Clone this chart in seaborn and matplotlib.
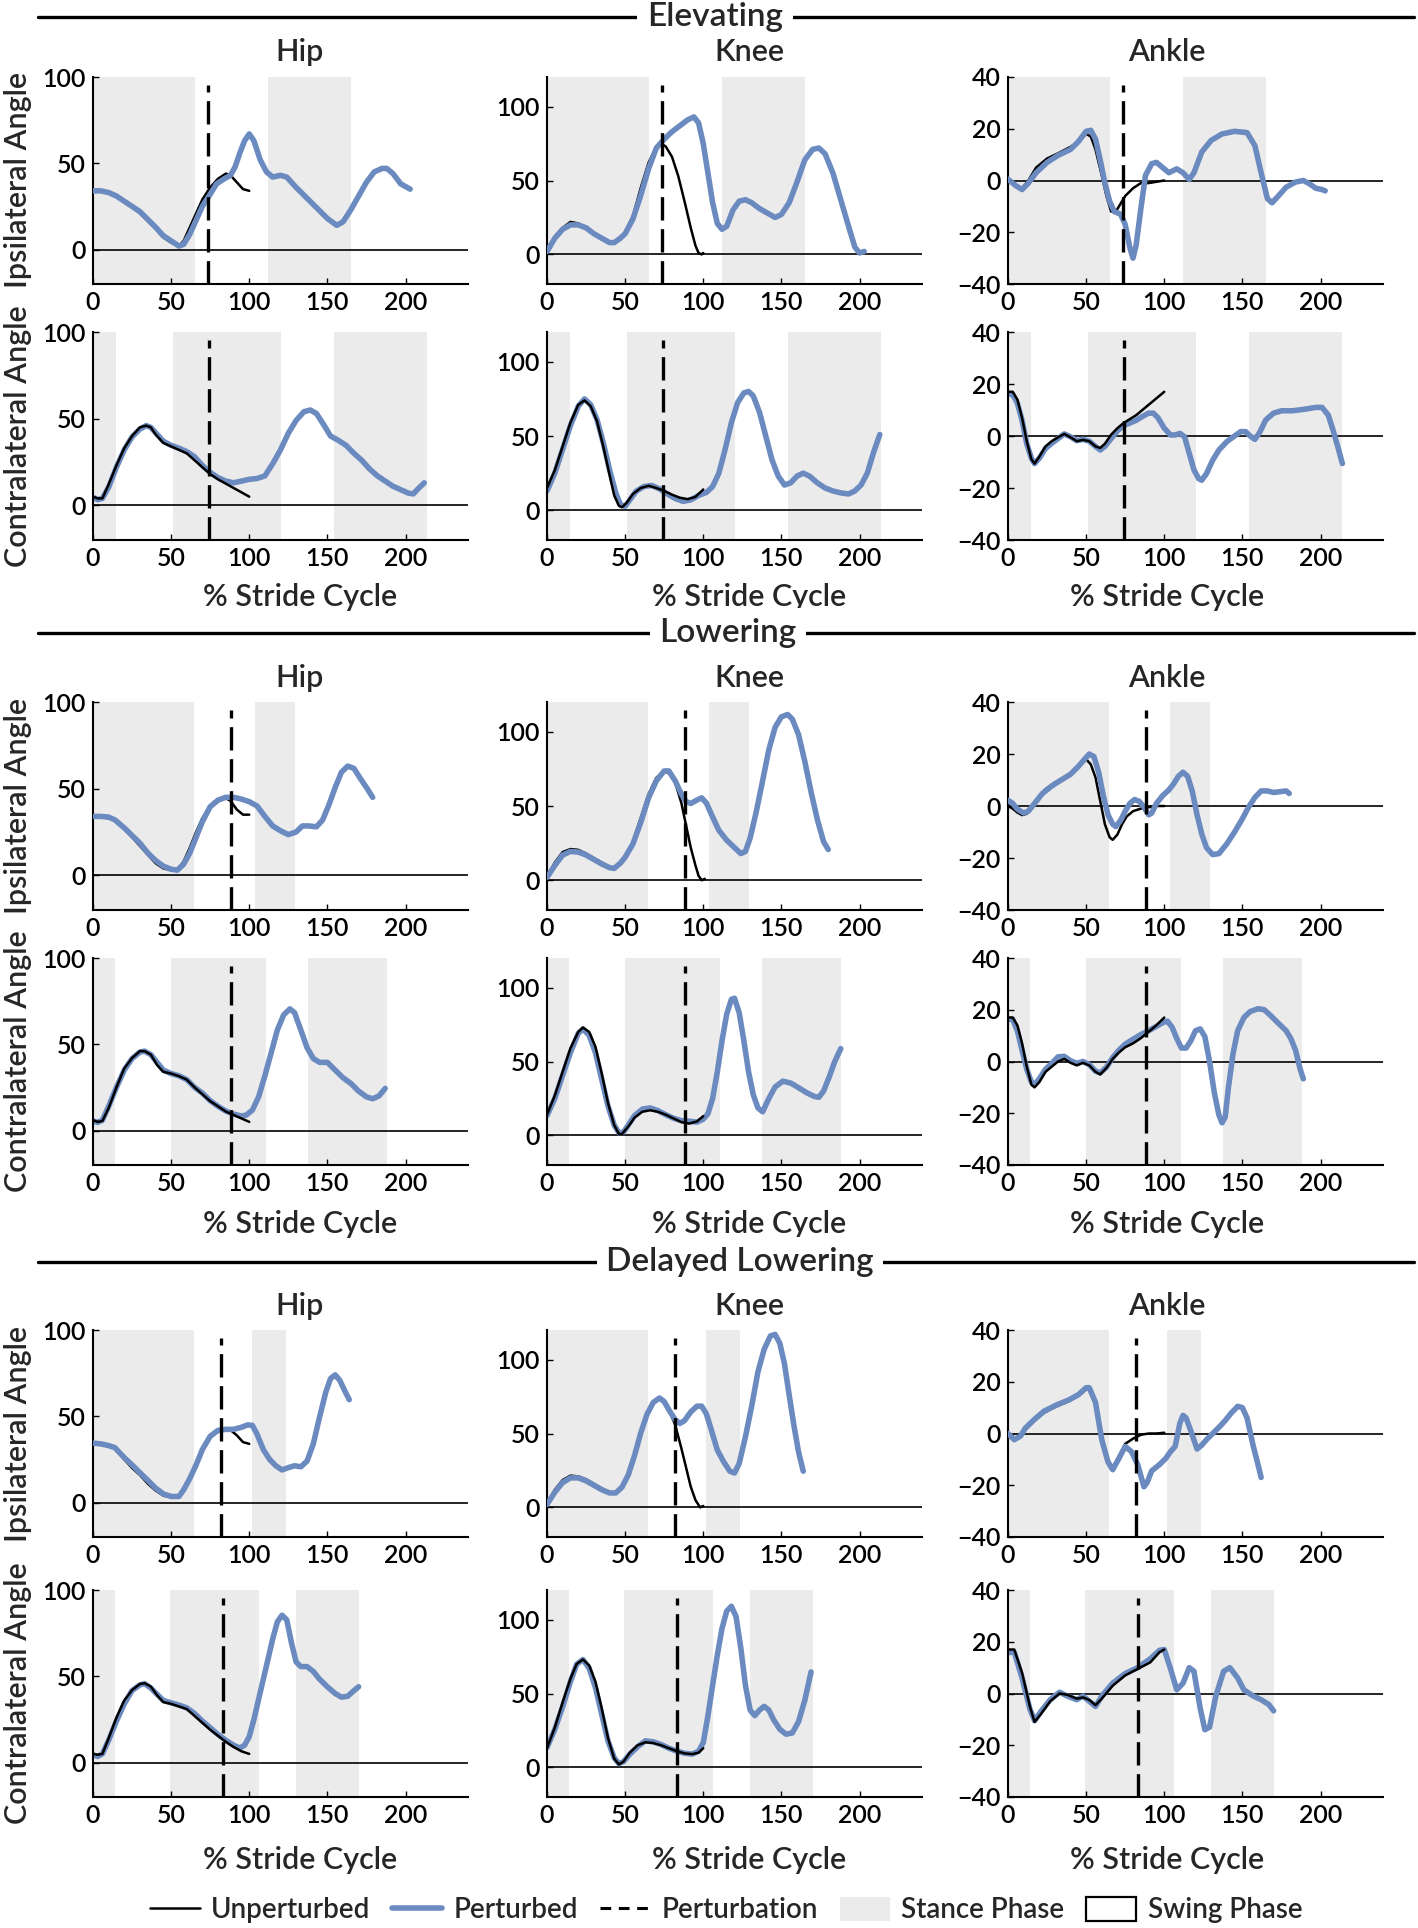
import numpy as np
import pandas as pd
import matplotlib
matplotlib.use("Agg")
import matplotlib.pyplot as plt
import seaborn as sns
from matplotlib.lines import Line2D
from matplotlib.patches import Patch

sns.set_theme(style="ticks")
plt.rcParams['font.family'] = ['Lato', 'DejaVu Sans']
plt.rcParams['font.weight'] = 'semibold'

# ---------------- DATA ----------------
SECTIONS = ["Elevating", "Lowering", "Delayed Lowering"]
JOINTS = ["Hip", "Knee", "Ankle"]
SIDE_LABELS = ["Ipsilateral Angle", "Contralateral Angle"]
X_TICKS = [0, 50, 100, 150, 200]
Y_TICKS = {"Hip": [0, 50, 100], "Knee": [0, 50, 100], "Ankle": [-40, -20, 0, 20, 40]}
Y_LIMS = {"Hip": (-20, 100), "Knee": (-20, 120), "Ankle": (-40, 40)}

# perturbation onset (% stride) per section, ipsilateral / contralateral
E_ONSET = [73.5, 74]
L_ONSET = [88, 88]
D_ONSET = [82, 83]

# stance phase spans per section (ipsilateral, contralateral)
E_STANCE_I = [(0, 65), (112, 165)]
E_STANCE_C = [(0, 14.5), (51, 120), (154, 214)]
L_STANCE_I = [(0, 64.5), (103.5, 129)]
L_STANCE_C = [(0, 14.3), (50, 111), (137.5, 188)]
D_STANCE_I = [(0, 64.5), (102, 123.5)]
D_STANCE_C = [(0, 14.2), (49, 106), (130, 170)]

# ---- Elevating ----
E_HIP_I_P = [(0,34),(5,34),(10,33),(15,31),(20,28),(30,22),(40,13),(45,8),(50,5),(55,2),(58,3),(62,9),(66,17),(70,25),(75,32),(79,38),(84,41),(88,43),(91,48),(94,56),(97,63),(100,67),(103,63),(107,52),(111,45),(115,42),(120,43),(124,42),(130,36),(140,27),(150,18),(156,14),(160,16),(165,23),(170,31),(175,39),(180,45),(185,47),(188,47),(192,44),(197,38),(203,35)]
E_HIP_I_U = [(0,34),(10,33),(20,28),(30,21),(40,12),(45,7),(50,4),(55,2),(58,5),(62,13),(66,21),(70,29),(75,36),(80,41),(85,44),(88,43),(92,39),(96,35),(100,34)]
E_KNEE_I_P = [(0,2),(5,11),(10,17),(15,20),(20,20),(25,18),(30,14),(35,11),(40,8),(43,8),(47,11),(50,14),(55,24),(60,40),(65,58),(70,72),(75,78),(80,83),(85,87),(90,91),(94,93),(97,89),(100,75),(103,55),(106,35),(109,21),(112,17),(115,19),(119,30),(123,36),(127,37),(131,35),(136,31),(141,28),(146,25),(150,27),(155,35),(160,49),(165,64),(170,71),(174,72),(178,68),(183,55),(188,37),(193,19),(197,5),(200,1),(203,2)]
E_KNEE_I_U = [(0,2),(5,12),(10,18),(15,22),(20,21),(25,18),(30,14),(35,11),(40,8),(43,8),(47,11),(50,15),(55,26),(60,45),(65,62),(70,73),(73,75),(76,73),(80,66),(84,53),(88,36),(92,18),(95,6),(97,1),(99,0),(100,1)]
E_ANK_I_P = [(0,0.5),(5,-2),(9,-3.5),(13,-1),(18,3),(25,7),(32,9.7),(40,12),(45,15),(50,19),(53,19.4),(56,16),(59,8),(62,-1),(65,-8),(68,-12),(72,-13),(75,-17),(78,-26),(80,-30),(82,-25),(85,-11),(88,2),(92,6.5),(95,7),(99,5),(103,3),(108,4.5),(112,3),(116,0.4),(119,3),(124,11),(130,15.5),(137,18),(145,19),(153,18.5),(158,13.5),(162,3),(166,-7),(169,-8.6),(173,-6),(178,-2.6),(184,-0.6),(189,0),(193,-1.3),(197,-3),(201,-3.5),(203,-4)]
E_ANK_I_U = [(0,0),(5,-2),(9,-3),(13,0),(18,5),(25,8.5),(32,10.5),(40,13),(45,15),(50,18),(53,17),(56,12),(60,2),(63,-6),(66,-12),(69,-12),(72,-9),(75,-6),(80,-3),(85,-1),(90,-1),(95,-0.5),(100,0)]
E_HIP_C_P = [(0,4.6),(3,3.3),(6,4),(10,10.4),(15,22),(20,32),(25,39.5),(30,44),(34,46),(37,45),(40,42),(45,37),(50,34.6),(55,33),(60,31),(65,28),(70,23),(75,19),(80,16),(85,14),(90,13),(95,14),(100,15),(105,15.5),(110,17),(115,24),(120,32),(125,41.6),(130,49),(135,54),(139,55),(143,53),(148,46),(152,40),(157,37.5),(162,34.6),(167,30),(172,26),(177,21),(182,17),(187,14),(192,11),(197,9),(202,7),(205,6.6),(208,9.5),(212,13)]
E_HIP_C_U = [(0,5),(3,4),(6,4),(10,12),(15,23),(20,33),(25,40),(30,45),(34,46),(37,45),(40,41),(45,36),(50,34),(55,32),(60,30),(65,26),(70,22),(75,18),(80,15),(85,12.5),(90,10),(95,7.5),(100,5)]
E_KNEE_C_P = [(0,13),(5,25),(10,41),(15,57),(20,70),(24,75),(28,71),(32,61),(36,45.5),(40,27.5),(44,11.7),(47,3.8),(50,2.7),(53,7),(57,12.8),(62,16),(67,16.7),(72,14.4),(77,11),(82,8),(87,6),(92,7),(97,10),(102,12),(106,16),(110,25),(114,41),(118,59),(122,72.5),(126,79),(129,80),(132,77),(136,66),(140,50),(144,34),(148,23),(152,17),(156,18.5),(160,23),(164,25),(168,23),(173,18.5),(178,15),(183,13),(188,11.7),(193,11),(197,13),(201,17),(205,25),(209,39),(213,51)]
E_KNEE_C_U = [(0,15),(5,27),(10,43),(15,59),(20,71),(24,74),(28,70),(32,60),(36,43),(40,24),(43,10),(46,3),(48,2),(51,5),(55,11),(60,15),(65,16.5),(70,15),(75,13),(80,10.5),(85,8.5),(90,7.5),(95,9),(100,14)]
E_ANK_C_P = [(0,16),(3,16),(6,12.6),(9,6),(12,-3),(15,-8.6),(17,-10.6),(20,-8.6),(24,-4.8),(28,-2.8),(32,-1),(36,0.8),(40,-0.3),(44,-1.8),(48,-1.3),(52,-2),(56,-4),(59,-5.4),(62,-4),(66,-1),(70,2),(74,4),(78,5),(82,6),(86,7.5),(90,8.8),(93,8.8),(96,7),(100,3),(104,0.4),(107,0.4),(110,1),(113,-0.3),(116,-6.7),(119,-13),(122,-16.4),(124,-17),(127,-14.5),(131,-9.3),(135,-5.4),(140,-2.2),(145,0),(149,1.7),(152,1.7),(155,0),(158,-1.3),(161,1.3),(165,6.2),(170,8.8),(175,9.7),(182,9.7),(190,10.3),(197,11),(201,11),(205,8),(208,2.3),(211,-4),(214,-10.6)]
E_ANK_C_U = [(0,17),(3,17),(6,14),(9,7),(12,-2),(15,-9),(17,-10.6),(20,-8),(24,-4),(28,-2),(32,-0.5),(36,0.8),(40,-0.5),(44,-2),(48,-1.5),(52,-2),(56,-4),(59,-4.6),(62,-3),(66,0.5),(70,3),(74,5),(78,6.5),(82,8),(86,10),(90,12),(95,14.5),(100,17)]

# ---- Lowering ----
L_HIP_I_P = [(0,34),(5,34),(10,33.6),(14,32),(20,27.4),(25,23),(30,18.6),(35,13),(40,8.6),(45,5.3),(50,3.5),(54,3),(58,6.4),(62,13),(66,22),(70,31),(75,39.6),(80,43.4),(85,45),(90,45),(95,44),(100,42.5),(105,40),(110,34),(115,28.5),(120,25.7),(125,23.5),(130,25),(134,28.5),(138,28.5),(143,28),(147,32),(151,40.7),(155,50.7),(159,59.5),(163,63),(167,61.7),(171,56),(175,50.7),(179,45)]
L_HIP_I_U = [(0,34),(10,33),(14,32),(20,27),(25,22),(30,17),(35,12),(40,7),(45,4),(50,3),(54,3),(58,8),(62,16),(66,25),(70,33),(75,40),(80,44),(84,45),(88,43),(92,38),(96,35),(100,35)]
L_KNEE_I_P = [(0,2),(5,10),(10,17),(15,19.4),(20,19),(25,17),(30,14),(35,11),(40,8.5),(43,8),(47,11.6),(50,15.5),(55,24.5),(60,39),(65,55.5),(70,67),(75,73.6),(78,73.6),(82,67),(86,58),(89,53),(92,51.7),(96,54),(99,55.5),(102,52),(106,42.6),(110,33.6),(115,27),(120,22),(124,18),(127,19.4),(130,28.4),(134,46.5),(138,67),(142,88),(146,103),(150,110),(154,111.6),(157,108.5),(161,98),(165,80),(169,59.4),(173,41),(177,26),(180,20.7)]
L_KNEE_I_U = [(0,2),(5,12),(10,19),(15,21),(20,20.5),(25,18),(30,15),(35,12),(40,9),(43,8),(47,11),(50,15),(55,26),(60,42),(65,58),(70,69),(75,73.5),(78,72),(82,66),(86,52),(89,37),(92,22),(95,10),(97,3),(99,0),(101,1)]
L_ANK_I_P = [(0,2.2),(3,1),(6,-1.2),(10,-2.7),(13,-2),(17,1),(22,4.8),(28,7.7),(34,10),(40,12.2),(45,15.2),(49,18),(52,20),(55,19),(58,13),(61,4),(64,-3.4),(67,-7),(69,-7.9),(72,-5.6),(75,-2),(78,1),(81,2.5),(84,1.8),(87,-0.4),(90,-3.4),(92,-2.7),(95,1),(99,4),(103,6.2),(106,8.5),(109,11.4),(112,13),(115,11.4),(118,5.5),(121,-3.4),(124,-10.8),(127,-16),(131,-18.7),(135,-18.3),(140,-14.6),(145,-10),(150,-4.9),(154,-0.4),(158,3.3),(162,5.8),(166,5.8),(170,5.2),(174,5.5),(178,5.8),(180,4.8)]
L_ANK_I_U = [(0,0),(3,-1),(6,-2.5),(9,-3.5),(12,-3),(15,-1),(19,3),(24,6.5),(30,9),(36,11),(42,13),(47,16),(50,18),(53,16),(56,11),(59,2),(62,-7),(65,-12),(67,-13),(70,-11),(73,-7),(76,-4),(80,-2),(85,-1),(90,-0.5),(95,0),(100,0)]
L_HIP_C_P = [(0,5.5),(3,4.7),(6,6),(10,14),(15,25),(20,35),(25,41.7),(30,45.5),(33,46),(37,44),(41,39.5),(45,35),(50,33),(55,31.7),(60,29.5),(65,25),(70,21.7),(75,17.3),(80,14),(85,11.3),(90,9.5),(95,8.4),(98,8.9),(102,11.8),(106,19.5),(110,31.7),(114,45),(118,58.3),(122,67),(126,70.5),(129,68.3),(133,58.3),(137,48),(141,41.7),(145,39.5),(150,39.5),(155,35),(160,30.6),(165,27.3),(170,22.8),(175,19.5),(179,18.4),(183,20),(187,24.4)]
L_HIP_C_U = [(0,6),(3,5),(6,5.5),(10,13),(15,25),(20,36),(25,42),(30,46),(33,46),(37,44),(41,38),(45,34),(50,33),(55,31.5),(60,29.5),(65,25),(70,21),(75,17),(80,14),(85,11),(90,9),(95,7),(100,5)]
L_KNEE_C_P = [(0,13.4),(5,25),(10,40.6),(15,56),(20,69),(23,72),(27,67.7),(31,56),(35,38),(39,20),(43,7),(46,1.8),(49,2.3),(52,7),(56,13.4),(61,17.8),(66,18.6),(71,16.8),(76,14),(81,11.6),(86,10),(91,9.6),(96,9),(100,11),(103,14.7),(106,25),(109,43),(112,64),(115,82),(118,92),(120,92.8),(123,83),(126,64),(129,43),(132,27.6),(135,18.6),(138,16),(142,25),(146,32.8),(151,36.7),(156,35.4),(161,32.3),(166,29),(171,26.4),(174,25.8),(177,30),(181,40.6),(184,49.6),(188,58.7)]
L_KNEE_C_U = [(0,14),(5,27),(10,43),(15,59),(20,70),(23,73),(27,70),(31,60),(35,42),(39,22),(43,7),(46,1),(48,1),(52,6),(56,12),(61,16),(66,17),(71,16),(76,14),(81,11.5),(86,9),(91,8),(96,9.5),(100,13)]
L_ANK_C_P = [(0,16.3),(3,16.3),(6,11.8),(9,4.4),(12,-3),(15,-8),(17,-8.9),(20,-6.7),(24,-3),(28,-0.7),(32,1.8),(36,2),(40,0.3),(44,-0.7),(48,0),(52,-1.2),(56,-3.7),(59,-4.4),(63,-2.2),(67,1.5),(71,4.4),(75,6.7),(80,8.6),(85,10.4),(90,11.9),(95,13.6),(99,15),(102,15.6),(105,13.3),(108,8.9),(111,5.2),(114,5.2),(117,8),(120,11.9),(123,12.6),(126,9.6),(129,0),(132,-11.9),(135,-20.7),(137,-23.7),(139,-21.5),(141,-10.4),(144,3),(147,11.9),(151,17),(155,19.3),(160,20.4),(164,20),(168,17.8),(173,14.8),(178,11.9),(181,8.9),(184,4.4),(187,-3),(189,-6.7)]
L_ANK_C_U = [(0,17),(3,17),(6,14),(9,7),(12,-2),(15,-9),(17,-10),(20,-8),(24,-4),(28,-2),(32,0),(36,1),(40,-0.5),(44,-1.5),(48,-0.5),(52,-1.5),(56,-4),(59,-5),(63,-2.5),(67,1),(71,3.5),(75,5.5),(80,7),(85,9),(90,11.5),(95,14),(100,17)]

# ---- Delayed Lowering ----
D_HIP_I_P = [(0,34.4),(5,34),(10,33),(14,31.8),(20,26),(25,21.8),(30,17.3),(35,12.9),(40,8.4),(45,5),(50,3.5),(55,3.5),(58,7.3),(62,14),(66,21.8),(70,30.7),(75,38.4),(80,41.8),(85,42.4),(90,42.4),(95,43.6),(99,45),(102,44.7),(105,39.6),(109,30.7),(113,25),(117,21.3),(121,18.9),(125,20.2),(129,21.3),(133,20.7),(137,24),(141,34),(145,49.5),(149,64),(152,71.8),(155,74),(158,70.7),(161,65),(164,59.6)]
D_HIP_I_U = [(0,34),(10,33),(14,32),(20,25),(25,20),(30,16),(35,11),(40,7),(45,4),(50,3),(55,4),(58,7),(62,14),(66,22),(70,31),(75,38),(80,42),(84,43),(88,42),(92,39),(96,35),(100,34)]
D_KNEE_I_P = [(0,2),(5,10.3),(10,16.8),(15,20),(20,20),(25,18),(30,15),(35,12),(40,9.8),(44,9.8),(48,13.7),(52,22),(56,35),(60,50.4),(64,63),(68,71),(72,74),(75,71.6),(78,66),(82,59.4),(85,56.8),(88,58.7),(92,64.6),(96,68.5),(99,68.5),(102,63.3),(105,53),(109,38.8),(113,31),(117,24.5),(120,23.3),(123,29.7),(127,47.8),(131,68.5),(135,91.7),(139,107),(143,116),(146,117),(149,111),(152,97),(155,76),(158,55.6),(161,37.5),(164,24.5)]
D_KNEE_I_U = [(0,2),(5,12),(10,18.5),(15,21.5),(20,21),(25,19),(30,16),(35,13),(40,10),(44,9.5),(48,13),(52,21),(56,34),(60,50),(64,63),(68,71),(72,74),(75,71),(78,66),(82,56),(86,40),(89,27),(92,14),(95,5),(98,0),(100,1)]
D_ANK_I_P = [(0,0),(4,-2.4),(8,-1),(11,2),(17,5.5),(23,8.6),(31,11),(39,13),(45,15),(50,17.7),(52,17.7),(56,12),(60,-2.4),(64,-11),(67,-14),(71,-9.6),(75,-5),(79,-7),(83,-12),(87,-20.6),(89,-19),(92,-14.4),(97,-12),(101,-9.6),(104,-7),(107,-5),(110,4),(112,7),(114,6),(117,1),(121,-6),(124,-4.5),(127,-2.4),(131,0),(135,2.4),(139,5),(143,8),(147,10.5),(150,10),(153,6),(157,-5),(160,-12),(162,-17)]
D_ANK_I_U = [(0,0),(4,-2),(8,-1),(11,1.5),(17,5),(23,8),(31,10.5),(39,12.5),(45,14.5),(50,17),(52,17),(56,11),(60,-3),(64,-11),(67,-13),(71,-9),(75,-4),(80,-2),(85,-0.5),(90,0),(95,0),(100,0.3)]
D_HIP_C_P = [(0,4.4),(3,3.5),(6,5),(10,12.9),(15,24),(20,34),(25,41.7),(30,45),(33,45.7),(37,43.2),(41,39.5),(45,36),(50,34.6),(55,33.3),(60,31.7),(65,28.4),(70,24),(75,20.2),(80,16.2),(85,12.9),(90,10),(94,8.4),(97,10),(100,15),(103,25),(107,40.6),(111,56),(115,71.6),(118,81.6),(121,85.4),(124,82.7),(127,69.4),(130,58.3),(133,55.6),(137,55.6),(141,52.8),(145,48.3),(150,43.9),(155,40),(159,37.9),(163,38.4),(167,41.7),(170,43.9)]
D_HIP_C_U = [(0,5),(3,4.5),(6,5),(10,14),(15,26),(20,36),(25,42),(30,45.5),(33,46),(37,44),(41,39),(45,35),(50,34),(55,32.5),(60,31),(65,27),(70,23),(75,19),(80,15.5),(85,12),(90,9),(95,6.5),(100,5)]
D_KNEE_C_P = [(0,13.4),(5,25.8),(10,41),(15,58),(19,69.8),(23,73),(27,67),(31,54),(35,36),(39,18),(43,6.5),(46,2.6),(49,3.9),(53,9),(58,14),(63,18),(68,17.3),(73,15.5),(78,13),(83,11),(88,9.6),(93,9),(97,11),(100,16.8),(103,35),(106,55.6),(109,76),(112,94),(115,105.7),(118,109),(121,102),(124,81),(127,55.6),(130,38.8),(133,35),(136,38.8),(139,41.3),(142,38.8),(145,32.3),(149,25.8),(153,22.5),(157,23.3),(161,31),(165,45.5),(169,64.6)]
D_KNEE_C_U = [(0,13),(5,27),(10,44),(15,60),(19,70),(23,73),(27,69),(31,58),(35,40),(39,20),(43,6),(46,2),(49,4),(53,10),(58,15),(63,17),(68,16.5),(73,15),(78,13),(83,11),(88,9.5),(93,9),(97,10),(100,13)]
D_ANK_C_P = [(0,15.8),(4,16),(9,6),(14,-6),(17,-10.5),(21,-7),(27,-2.4),(33,0.5),(38,-1),(44,-2.4),(48,-1),(52,-3),(56,-5),(60,-1),(67,4),(75,7.7),(83,10),(91,13.4),(97,16.7),(100,17),(104,9.6),(108,1.4),(112,4),(116,10),(119,8.6),(123,-5.7),(126,-14),(129,-13),(133,-1),(138,8.6),(142,10),(147,6),(151,1.4),(157,-1),(162,-2.4),(167,-4.3),(170,-6.7)]
D_ANK_C_U = [(0,17),(4,17),(9,8),(14,-5),(17,-11),(21,-8),(27,-3),(33,0),(38,-0.5),(44,-2),(48,-1.5),(52,-2.5),(56,-4.5),(60,-2),(67,3),(75,7),(83,9.5),(91,12),(97,16),(100,17)]

# ---------------- assemble ----------------
CURVES = {
    ("Elevating", 0): [(E_HIP_I_P, E_HIP_I_U), (E_KNEE_I_P, E_KNEE_I_U), (E_ANK_I_P, E_ANK_I_U)],
    ("Elevating", 1): [(E_HIP_C_P, E_HIP_C_U), (E_KNEE_C_P, E_KNEE_C_U), (E_ANK_C_P, E_ANK_C_U)],
    ("Lowering", 0): [(L_HIP_I_P, L_HIP_I_U), (L_KNEE_I_P, L_KNEE_I_U), (L_ANK_I_P, L_ANK_I_U)],
    ("Lowering", 1): [(L_HIP_C_P, L_HIP_C_U), (L_KNEE_C_P, L_KNEE_C_U), (L_ANK_C_P, L_ANK_C_U)],
    ("Delayed Lowering", 0): [(D_HIP_I_P, D_HIP_I_U), (D_KNEE_I_P, D_KNEE_I_U), (D_ANK_I_P, D_ANK_I_U)],
    ("Delayed Lowering", 1): [(D_HIP_C_P, D_HIP_C_U), (D_KNEE_C_P, D_KNEE_C_U), (D_ANK_C_P, D_ANK_C_U)],
}
STANCE = {
    ("Elevating", 0): E_STANCE_I, ("Elevating", 1): E_STANCE_C,
    ("Lowering", 0): L_STANCE_I, ("Lowering", 1): L_STANCE_C,
    ("Delayed Lowering", 0): D_STANCE_I, ("Delayed Lowering", 1): D_STANCE_C,
}
ONSET = {"Elevating": E_ONSET, "Lowering": L_ONSET, "Delayed Lowering": D_ONSET}

# ---------------- style / layout ----------------
W, H = 1418, 1928
BLUE = "#6b8bc0"
GRAY = "#ebebeb"
fig = plt.figure(figsize=(W / 100, H / 100), dpi=100)

COL_LEFT = [93, 547, 1008]
AX_W = 375
ROWS = {  # (top, bottom) in pixels
    ("Elevating", 0): (77, 284), ("Elevating", 1): (332, 540),
    ("Lowering", 0): (702, 910), ("Lowering", 1): (958, 1165),
    ("Delayed Lowering", 0): (1330, 1537), ("Delayed Lowering", 1): (1590, 1797),
}
TITLE_X = [300, 749, 1167]
TITLE_Y = {"Elevating": 52, "Lowering": 678, "Delayed Lowering": 1306}
XLAB_Y = {"Elevating": 597, "Lowering": 1224, "Delayed Lowering": 1860}
SEC_Y = {"Elevating": 17, "Lowering": 633, "Delayed Lowering": 1262}
SEC_X = {"Elevating": 715, "Lowering": 728, "Delayed Lowering": 740}

TICK_FS = 18
LAB_FS = 22

def fx(px):
    return px / W

def fy(py):
    return 1 - py / H

for sec in SECTIONS:
    # section header line with text
    fig.add_artist(Line2D([fx(38), fx(1414)], [fy(SEC_Y[sec])] * 2, transform=fig.transFigure,
                          color="black", lw=2.4, zorder=1))
    fig.text(fx(SEC_X[sec]), fy(SEC_Y[sec]), sec, ha="center", va="center", fontsize=24,
             zorder=3, bbox=dict(facecolor="white", edgecolor="none", pad=7))
    for side in (0, 1):
        top, bot = ROWS[(sec, side)]
        for j, joint in enumerate(JOINTS):
            ax = fig.add_axes([fx(COL_LEFT[j]), fy(bot), AX_W / W, (bot - top) / H])
            for a, b in STANCE[(sec, side)]:
                ax.axvspan(a, b, color=GRAY, lw=0, zorder=0)
            ax.axhline(0, color="black", lw=1.2, zorder=1)
            pert, unp = CURVES[(sec, side)][j]
            px_, py_ = zip(*pert)
            ux_, uy_ = zip(*unp)
            z_b, z_k = (3, 2) if side == 0 else (2, 3)
            sns.lineplot(x=list(px_), y=list(py_), ax=ax, color=BLUE, lw=4.0,
                         estimator=None, sort=False, zorder=z_b)
            sns.lineplot(x=list(ux_), y=list(uy_), ax=ax, color="black", lw=1.8,
                         estimator=None, sort=False, zorder=z_k)
            ax.axvline(ONSET[sec][side], ymin=0, ymax=0.96, color="black", lw=2.4,
                       dashes=(7, 2.6), zorder=4)
            ax.set_xlim(0, 240)
            ax.set_ylim(*Y_LIMS[joint])
            ax.set_xticks(X_TICKS)
            ax.set_yticks(Y_TICKS[joint])
            ax.set_xlabel("")
            ax.set_ylabel("")
            for s in ("top", "right"):
                ax.spines[s].set_visible(False)
            for s in ("left", "bottom"):
                ax.spines[s].set_linewidth(1.5)
                ax.spines[s].set_color("black")
            ax.tick_params(direction="in", length=4, width=1, labelsize=TICK_FS, pad=5,
                           colors="black")
            ax.patch.set_alpha(0)
            if side == 0:
                fig.text(fx(TITLE_X[j]), fy(TITLE_Y[sec]), joint, ha="center", va="center",
                         fontsize=LAB_FS)
            else:
                fig.text(fx(TITLE_X[j]), fy(XLAB_Y[sec]), "% Stride Cycle", ha="center",
                         va="center", fontsize=LAB_FS)
        fig.text(fx(18), fy((top + bot) / 2), SIDE_LABELS[side], rotation=90, ha="center",
                 va="center", fontsize=LAB_FS)

handles = [
    Line2D([], [], color="black", lw=1.8),
    Line2D([], [], color=BLUE, lw=4.0),
    Line2D([], [], color="black", lw=2.2, dashes=(3.5, 2.5)),
    Patch(facecolor=GRAY, edgecolor="none"),
    Patch(facecolor="white", edgecolor="black", lw=1.6),
]
labels = ["Unperturbed", "Perturbed", "Perturbation", "Stance Phase", "Swing Phase"]
fig.legend(handles, labels, loc="center", bbox_to_anchor=(fx(726), fy(1910)), ncol=5,
           frameon=False, fontsize=20, handlelength=1.8, handleheight=1.0,
           handletextpad=0.4, columnspacing=0.8)

fig.savefig("out.png", dpi=100)
